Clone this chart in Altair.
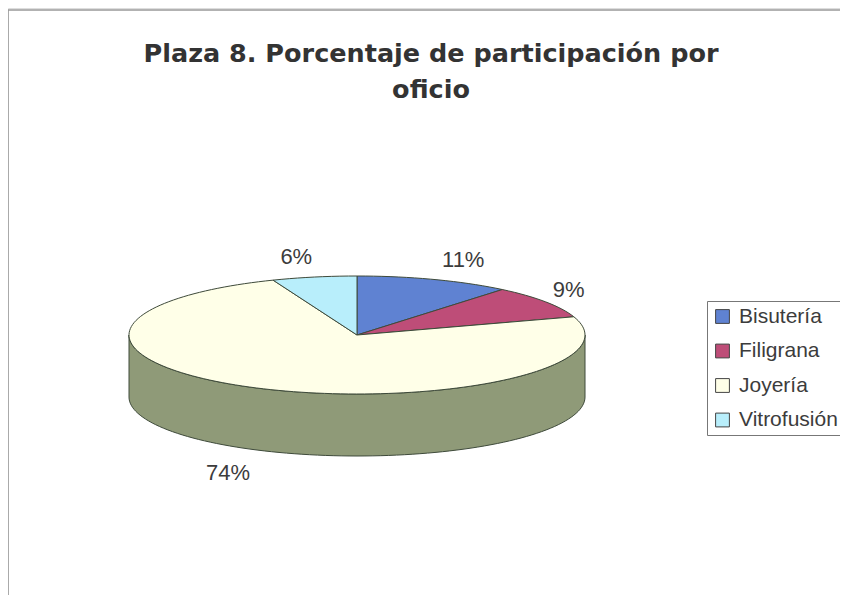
import math
import altair as alt
import pandas as pd

oficios = ["Bisutería", "Filigrana", "Joyería", "Vitrofusión"]
shares = [11, 9, 74, 6]
etiquetas = ["11%", "9%", "74%", "6%"]
colores = ["#5F82D2", "#BE4D78", "#FFFFE8", "#B8EEFB"]

W, H = 832, 587
CX, CY, RX, RY, DEPTH = 349, 327, 228, 59, 62
INK = "#3C3C3C"
EDGE = "#3E4A3A"
FONT = "Liberation Sans"
# label offsets from the rim point at each slice's middle angle
NUDGE = [(29, -19), (23, -12), (-32, 23), (-18, -20)]


def rim(deg, drop=0):
    a = math.radians(deg)
    return CX + RX * math.sin(a), CY - RY * math.cos(a) + drop


x_scale = alt.Scale(domain=[0, W], range=[0, W], nice=False, zero=False)
y_scale = alt.Scale(domain=[0, H], range=[0, H], nice=False, zero=False)
X = alt.X("x:Q", scale=x_scale, axis=None)
Y = alt.Y("y:Q", scale=y_scale, axis=None)

# front wall of the pie
wall = []
for d in range(90, 271, 2):
    wall.append((rim(d)))
for d in range(270, 89, -2):
    wall.append((rim(d, DEPTH)))
wall.append(rim(90))
wall_df = pd.DataFrame([{"x": p[0], "y": p[1], "i": i} for i, p in enumerate(wall)])
wall_layer = alt.Chart(wall_df).mark_line(
    fill="#8F9A78", stroke=EDGE, strokeWidth=1
).encode(x=X, y=Y, order="i:Q")

# top face: one closed wedge per share
rows, start = [], 0.0
mids = []
for name, share in zip(oficios, shares):
    end = start + share * 3.6
    pts = [(CX, CY)]
    n = max(2, int((end - start) / 2))
    pts += [rim(start + (end - start) * k / n) for k in range(n + 1)]
    pts.append((CX, CY))
    base = len(rows)
    rows += [{"x": p[0], "y": p[1], "i": base + j, "oficio": name} for j, p in enumerate(pts)]
    mids.append((start + end) / 2)
    start = end
wedge_df = pd.DataFrame(rows)
wedges = alt.Chart(wedge_df).mark_line(stroke=EDGE, strokeWidth=1).encode(
    x=X,
    y=Y,
    order="i:Q",
    fill=alt.Fill(
        "oficio:N",
        scale=alt.Scale(domain=oficios, range=colores),
        legend=alt.Legend(
            title=None,
            orient="none",
            legendX=699,
            legendY=293,
            symbolType="square",
            symbolSize=190,
            symbolStrokeColor="#444444",
            symbolStrokeWidth=1,
            symbolOpacity=1,
            labelFont=FONT,
            labelFontSize=21,
            labelColor=INK,
            labelLimit=200,
            labelOffset=6,
            rowPadding=12.5,
            padding=5,
            strokeColor="#777777",
            fillColor="#FFFFFF",
        ),
    ),
)

# value labels
lab_rows = []
for text, mid, (dx, dy) in zip(etiquetas, mids, NUDGE):
    px, py = rim(mid, DEPTH if math.cos(math.radians(mid)) < 0 else 0)
    lab_rows.append({"x": px + dx, "y": py + dy, "t": text})
labels = alt.Chart(pd.DataFrame(lab_rows)).mark_text(
    font=FONT, fontSize=22, color=INK, align="center", baseline="middle"
).encode(x=X, y=Y, text="t:N")

# chart frame (left and top edges, as in the scan)
frame_df = pd.DataFrame({"x": [0, 0, W], "y": [H, 2, 2], "i": [0, 1, 2]})
frame = alt.Chart(frame_df).mark_line(stroke="#999999", strokeWidth=1.5).encode(
    x=X, y=Y, order="i:Q"
)

chart = (
    alt.layer(frame, wall_layer, wedges, labels)
    .resolve_scale(fill="independent")
    .properties(
        width=W,
        height=H,
        padding=0,
        autosize=alt.AutoSizeParams(type="none"),
        title=alt.TitleParams(
            text=["Plaza 8.  Porcentaje de participación por", "oficio"],
            anchor="middle",
            frame="group",
            dx=7,
            offset=-96,
            font="DejaVu Sans",
            fontSize=25.5,
            fontWeight="bold",
            color="#333333",
            lineHeight=36,
        ),
    )
    .configure_view(stroke=None)
    .configure(background="#FFFFFF")
)

chart.save("out.html", embed_options={"renderer": "svg", "actions": False})
